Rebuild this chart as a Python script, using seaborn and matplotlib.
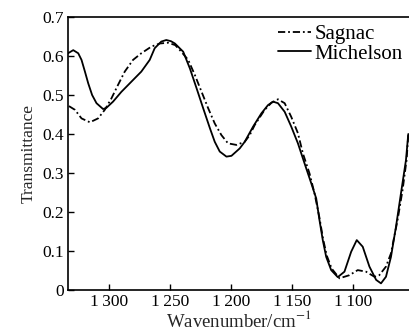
import numpy as np
import pandas as pd
import matplotlib
matplotlib.use("Agg")
import matplotlib.pyplot as plt
import seaborn as sns

# Michelson (solid)
mich_x = [1334, 1329.7, 1325.6, 1322.9, 1320.1, 1317.4, 1314.2, 1310.6, 1305.2, 1302.5, 1297,
          1290.2, 1282, 1273.8, 1266.9, 1262.8, 1257.4, 1253.3, 1249.5, 1246.2, 1239.4, 1233.9,
          1228.4, 1223, 1217.5, 1213.5, 1209.4, 1203.9, 1199.8, 1193, 1188.9, 1182, 1175.2,
          1169.8, 1165.7, 1161.6, 1156.1, 1150.7, 1145.2, 1139.8, 1134.3, 1130.2, 1127.5,
          1124.8, 1122, 1117.9, 1112.5, 1107, 1101.5, 1096.9, 1092, 1086.5, 1081, 1077,
          1072.9, 1068.8, 1064.7, 1060.6, 1056.5, 1054.6]
mich_y = [0.607, 0.615, 0.607, 0.590, 0.560, 0.530, 0.500, 0.479, 0.464, 0.467, 0.483,
          0.508, 0.534, 0.560, 0.590, 0.620, 0.637, 0.641, 0.638, 0.632, 0.611, 0.568,
          0.517, 0.466, 0.415, 0.380, 0.355, 0.342, 0.344, 0.363, 0.380, 0.419, 0.453,
          0.474, 0.483, 0.479, 0.457, 0.419, 0.376, 0.325, 0.274, 0.235, 0.179,
          0.128, 0.085, 0.051, 0.033, 0.047, 0.098, 0.128, 0.111, 0.060, 0.026, 0.017,
          0.034, 0.085, 0.162, 0.248, 0.333, 0.400]

# Sagnac (dash-dot)
sag_x = [1334, 1328.3, 1322.9, 1316, 1309.3, 1303.8, 1298.4, 1292.9, 1287.4, 1280.6, 1273.8,
         1265.6, 1258.7, 1251.9, 1246, 1242.1, 1235.3, 1229.8, 1224.3, 1218.9, 1213.5, 1208,
         1202.6, 1195.7, 1188.9, 1184.8, 1180.7, 1172.5, 1167, 1161.6, 1156.1, 1150.7,
         1145.2, 1141.1, 1135.7, 1131.6, 1127.5, 1124.5, 1121.5, 1117.5, 1111.1, 1102.9,
         1096.1, 1089.3, 1082.4, 1078.4, 1072.9, 1068.8, 1066.1, 1063.4, 1059.3, 1056, 1054.6]
sag_y = [0.473, 0.462, 0.440, 0.430, 0.440, 0.462, 0.491, 0.526, 0.560, 0.590, 0.607,
         0.624, 0.632, 0.634, 0.628, 0.615, 0.590, 0.551, 0.508, 0.466, 0.427, 0.397,
         0.376, 0.372, 0.380, 0.397, 0.423, 0.462, 0.480, 0.489, 0.479, 0.444,
         0.402, 0.350, 0.299, 0.248, 0.185, 0.130, 0.088, 0.055, 0.030, 0.038,
         0.051, 0.047, 0.034, 0.038, 0.060, 0.094, 0.137, 0.179, 0.256, 0.333, 0.397]

xticks = [1300, 1250, 1200, 1150, 1100]
xtick_labels = ["1\u2009300", "1\u2009250", "1\u2009200", "1\u2009150", "1\u2009100"]
yticks = [0, 0.1, 0.2, 0.3, 0.4, 0.5, 0.6, 0.7]
ytick_labels = ["0", "0.1", "0.2", "0.3", "0.4", "0.5", "0.6", "0.7"]

df = pd.concat([
    pd.DataFrame({"Wavenumber": sag_x, "Transmittance": sag_y, "series": "Sagnac"}),
    pd.DataFrame({"Wavenumber": mich_x, "Transmittance": mich_y, "series": "Michelson"}),
])

sns.set_style("ticks")
plt.rcParams["font.family"] = ["Liberation Serif", "DejaVu Serif"]
plt.rcParams["mathtext.fontset"] = "stix"

fig = plt.figure(figsize=(4.09, 3.33), dpi=100)
ax = fig.add_axes([68 / 409, 1 - 290 / 333, 1 - 68 / 409, (290 - 17) / 333])

sns.lineplot(data=df, x="Wavenumber", y="Transmittance", hue="series", style="series",
             palette={"Sagnac": "black", "Michelson": "black"},
             dashes={"Sagnac": (4, 1.6, 1, 1.6), "Michelson": ""},
             estimator=None, sort=True, linewidth=1.3, ax=ax)

ax.set_xlim(1334, 1054)
ax.set_ylim(0, 0.7)
ax.set_xticks(xticks)
ax.set_xticklabels(xtick_labels)
ax.set_yticks(yticks)
ax.set_yticklabels(ytick_labels)
ax.tick_params(direction="in", length=4, width=1, labelsize=12.5, colors="black", pad=3)
ax.set_xlabel("Wavenumber/cm$^{-1}$", fontsize=13.5, labelpad=0)
ax.set_ylabel("Transmittance", fontsize=12.5, labelpad=4)
for s in ["left", "bottom", "top"]:
    ax.spines[s].set_linewidth(1.2)
    ax.spines[s].set_color("black")
ax.spines["right"].set_visible(False)

leg = ax.legend(loc="upper right", frameon=False, fontsize=15, handlelength=1.6,
                handletextpad=0.15, borderaxespad=0.0, borderpad=0.3, labelspacing=0.0,
                bbox_to_anchor=(1.0, 0.995))
for t in leg.get_texts():
    t.set_color("black")

fig.savefig("out.png", dpi=100)
